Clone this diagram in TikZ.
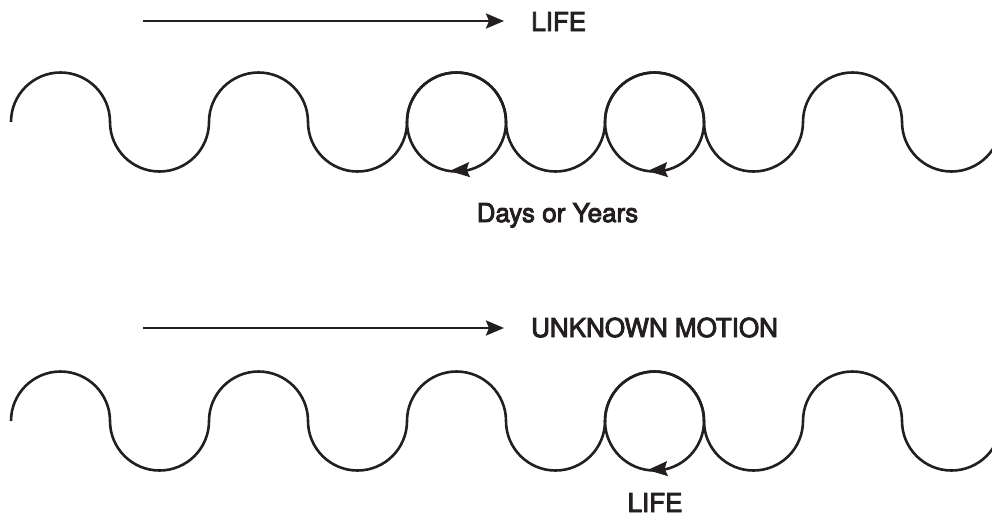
\documentclass[tikz,border=0pt]{standalone}
\usepackage{fontspec}
\setmainfont{TeX Gyre Heros}
\newfontfamily\labelfont{TeX Gyre Heros}[FakeBold=3.5]
\usetikzlibrary{arrows.meta,calc}
\definecolor{ink}{HTML}{231F20}
\begin{document}
\begin{tikzpicture}[x=1pt,y=1pt,
  wave/.style={draw=ink,line width=2.6pt},
  motion/.style={draw=ink,line width=2.6pt,-{Stealth[length=18pt,width=15pt,inset=3pt]}},
  spin/.style={draw=ink,line width=1pt,-{Stealth[length=20pt,width=15pt,inset=3pt]}},
  lbl/.style={text=ink,inner sep=0pt,font=\labelfont\fontsize{26}{30}\selectfont}]
\useasboundingbox (0,0) rectangle (992,-517);
\clip (0,0) rectangle (992,-517);

% --- upper panel ---
\coordinate (a1) at (143,-21);
\coordinate (a1e) at (504,-21);
\node[lbl,anchor=base west] (life1) at (531,-31) {LIFE};
\draw[motion] (a1) -- (a1e);

\draw[wave] (11,-122) foreach \i in {1,...,5} {
  arc[start angle=180,end angle=0,radius=49.5]
  arc[start angle=180,end angle=360,radius=49.5] };
\coordinate (c1) at (456.5,-122);
\coordinate (c2) at (654.5,-122);
\foreach \c in {c1,c2} {
  \draw[wave] (\c) circle[radius=49.5];
  \draw[spin] ($(\c)+(286:49.5)$) -- ($(\c)+(262:49.5)$);
}
\node[lbl,anchor=base] (days) at (557.5,-222) {Days or Years};

% --- lower panel ---
\coordinate (a2) at (143,-328);
\coordinate (a2e) at (504,-328);
\node[lbl,anchor=base west] (unk) at (531,-337) {UNKNOWN MOTION};
\draw[motion] (a2) -- (a2e);

\draw[wave] (11,-421) foreach \i in {1,...,5} {
  arc[start angle=180,end angle=0,radius=49.5]
  arc[start angle=180,end angle=360,radius=49.5] };
\coordinate (c3) at (654.5,-421);
\draw[wave] (c3) circle[radius=49.5];
\draw[spin] ($(c3)+(286:49.5)$) -- ($(c3)+(262:49.5)$);
\node[lbl,anchor=base] (life2) at (655,-512) {LIFE};
\end{tikzpicture}
\end{document}
